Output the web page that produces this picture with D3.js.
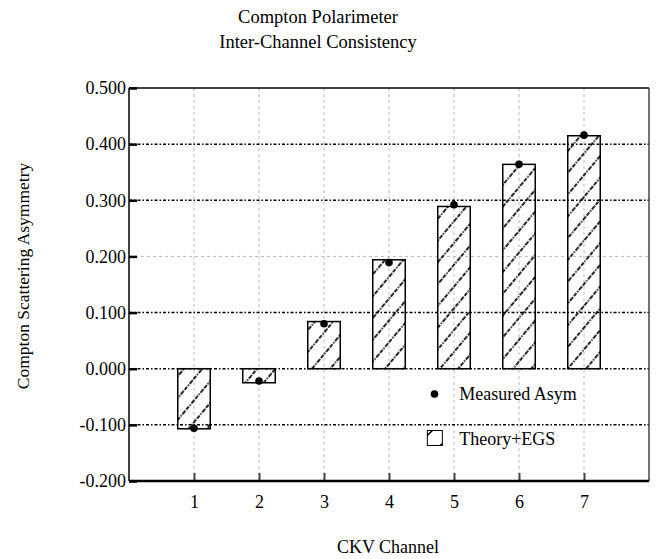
<!DOCTYPE html>
<html>
<head>
<meta charset="utf-8">
<script src="https://cdn.jsdelivr.net/npm/d3@7"></script>
<style>
  body { margin: 0; background: #fff; }
  text { font-family: "Liberation Serif", "Times New Roman", serif; }
</style>
</head>
<body>
<svg id="chart" width="661" height="559"></svg>
<script>
// data
const channels = [1, 2, 3, 4, 5, 6, 7];
const theory = [-0.107, -0.025, 0.084, 0.194, 0.289, 0.364, 0.415];
const measured = [-0.106, -0.022, 0.080, 0.189, 0.292, 0.364, 0.416];
const yTicks = [-0.2, -0.1, 0.0, 0.1, 0.2, 0.3, 0.4, 0.5];

const svg = d3.select("#chart");

const padding = { top: 88, right: 12, bottom: 78, left: 129 };
const width = +svg.attr("width");
const height = +svg.attr("height");

var xScale = d3.scaleLinear()
  .domain([0, 8])
  .range([padding.left, width - padding.right]);

var yScale = d3.scaleLinear()
  .domain([-0.2, 0.5])
  .range([height - padding.bottom, padding.top]);

// hatch pattern
var defs = svg.append("defs");
var pat = defs.append("pattern")
  .attr("id", "hatch")
  .attr("patternUnits", "userSpaceOnUse")
  .attr("width", 14)
  .attr("height", 14)
  .attr("patternTransform", "rotate(40)");
[0, 14].forEach(px => {
  pat.append("line")
    .attr("x1", px).attr("y1", 0)
    .attr("x2", px).attr("y2", 14)
    .attr("stroke", "#000")
    .attr("stroke-width", 1.7)
    .attr("stroke-dasharray", "4,1.2,1.6,1.2");
});

// vertical grid (light grey dashed)
svg.append("g")
  .selectAll("line")
  .data(channels)
  .enter()
  .append("line")
  .attr("x1", d => xScale(d))
  .attr("x2", d => xScale(d))
  .attr("y1", yScale(0.5))
  .attr("y2", yScale(-0.2))
  .attr("stroke", "#bbb")
  .attr("stroke-width", 1)
  .attr("stroke-dasharray", "3,3");

// horizontal grid
var isGrey = d => Math.abs(d - 0.2) < 1e-6;
svg.append("g")
  .selectAll("line")
  .data(yTicks.filter(d => d > -0.2 && d < 0.5))
  .enter()
  .append("line")
  .attr("x1", xScale(0))
  .attr("x2", xScale(8))
  .attr("y1", d => yScale(d))
  .attr("y2", d => yScale(d))
  .attr("stroke", d => isGrey(d) ? "#bbb" : "#000")
  .attr("stroke-width", d => isGrey(d) ? 1 : 1.5)
  .attr("stroke-dasharray", d => isGrey(d) ? "3,3" : "3,2,1.5,2");

// bars
svg.append("g")
  .selectAll("rect")
  .data(channels)
  .enter()
  .append("rect")
  .attr("x", d => xScale(d - 0.25))
  .attr("width", xScale(0.5) - xScale(0))
  .attr("y", (d, i) => yScale(Math.max(0, theory[i])))
  .attr("height", (d, i) => Math.abs(yScale(theory[i]) - yScale(0)))
  .attr("fill", "url(#hatch)")
  .attr("stroke", "#000")
  .attr("stroke-width", 1.5);

// measured points
svg.append("g")
  .selectAll("circle")
  .data(channels)
  .enter()
  .append("circle")
  .attr("cx", d => xScale(d))
  .attr("cy", (d, i) => yScale(measured[i]))
  .attr("r", 3.8)
  .attr("fill", "#000");

// axes
var fmt = d => d3.format(".3f")(d).replace("\u2212", "-");
var yAxis = d3.axisLeft(yScale)
  .tickValues(yTicks)
  .tickFormat(fmt)
  .tickSize(-8)
  .tickPadding(5);
var gy = svg.append("g")
  .attr("transform", `translate(${padding.left},0)`)
  .call(yAxis);
gy.select(".domain").remove();
gy.selectAll(".tick line").attr("stroke", "#000").attr("stroke-width", 2.5);
gy.selectAll(".tick text")
  .style("font-size", "18px")
  .style("font-family", "'Liberation Serif', serif")
  .attr("fill", "#000")
  .attr("x", -3);

var xAxis = d3.axisBottom(xScale)
  .tickValues(channels)
  .tickFormat(d3.format("d"))
  .tickSize(-8)
  .tickPadding(14);
var gx = svg.append("g")
  .attr("transform", `translate(0,${height - padding.bottom})`)
  .call(xAxis);
gx.select(".domain").remove();
gx.selectAll(".tick line").attr("stroke", "#444").attr("stroke-width", 2);
gx.selectAll(".tick text")
  .style("font-size", "18px")
  .style("font-family", "'Liberation Serif', serif")
  .attr("fill", "#000");

// frame
var x0 = xScale(0), x1 = xScale(8), y0 = yScale(-0.2), y1 = yScale(0.5);
svg.append("line").attr("x1", x0).attr("x2", x1).attr("y1", y1).attr("y2", y1)
  .attr("stroke", "#000").attr("stroke-width", 1.5);
svg.append("line").attr("x1", x1).attr("x2", x1).attr("y1", y1).attr("y2", y0)
  .attr("stroke", "#444").attr("stroke-width", 1.5);
svg.append("line").attr("x1", x0).attr("x2", x0).attr("y1", y1).attr("y2", y0)
  .attr("stroke", "#000").attr("stroke-width", 1.5);
svg.append("line").attr("x1", x0).attr("x2", x1).attr("y1", y0).attr("y2", y0)
  .attr("stroke", "#000").attr("stroke-width", 2.5);

// legend
var legend = svg.append("g").style("font-size", "18px");
legend.append("circle")
  .attr("cx", xScale(4.7)).attr("cy", yScale(-0.045))
  .attr("r", 3.8).attr("fill", "#000");
legend.append("text")
  .attr("x", xScale(5.08)).attr("y", yScale(-0.045) + 6)
  .text("Measured Asym");
var lx = xScale(4.59), ly = yScale(-0.11);
legend.append("rect")
  .attr("x", lx).attr("y", ly)
  .attr("width", 15).attr("height", 15)
  .attr("fill", "#fff")
  .attr("stroke", "#000").attr("stroke-width", 1);
legend.append("path")
  .attr("d", `M${lx},${ly + 5}L${lx + 5},${ly}M${lx + 13},${ly + 15}L${lx + 15},${ly + 13}`)
  .attr("stroke", "#000").attr("stroke-width", 1.6);
legend.append("text")
  .attr("x", xScale(5.08)).attr("y", yScale(-0.125) + 6)
  .text("Theory+EGS");

// titles
svg.append("text")
  .attr("x", 318).attr("y", 23)
  .attr("text-anchor", "middle")
  .style("font-size", "18.5px")
  .text("Compton Polarimeter");
svg.append("text")
  .attr("x", 318).attr("y", 48)
  .attr("text-anchor", "middle")
  .style("font-size", "18.5px")
  .text("Inter-Channel Consistency");

svg.append("text")
  .attr("x", 388).attr("y", 553)
  .attr("text-anchor", "middle")
  .style("font-size", "18px")
  .text("CKV Channel");

svg.append("text")
  .attr("transform", "translate(29,276) rotate(-90)")
  .attr("text-anchor", "middle")
  .style("font-size", "17.5px")
  .text("Compton Scattering Asymmetry");
</script>
</body>
</html>
